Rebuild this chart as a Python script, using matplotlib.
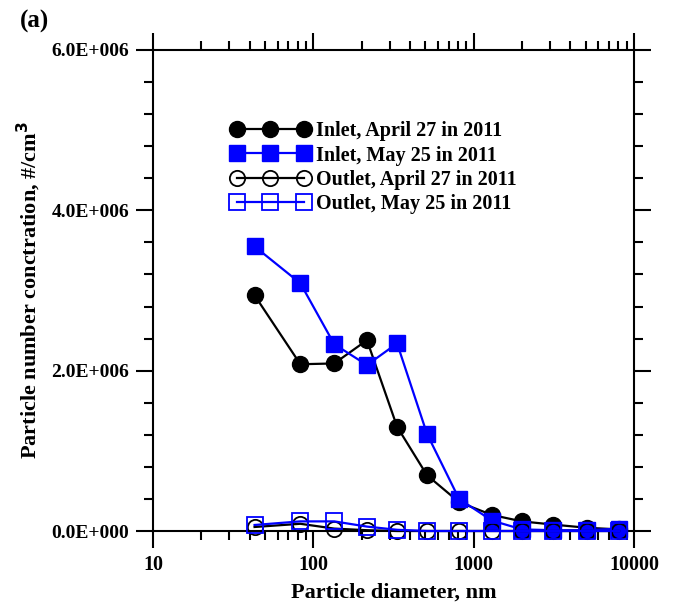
import matplotlib
matplotlib.use("Agg")
import matplotlib.pyplot as plt
from matplotlib.ticker import MultipleLocator, FuncFormatter, LogLocator, NullFormatter

plt.rcParams['font.family'] = ['Liberation Serif', 'DejaVu Serif']
plt.rcParams['font.weight'] = 'bold'

# particle diameter (nm)
diametro = [43, 83, 135, 216, 333, 512, 811, 1300, 2000, 3130, 5100, 8070]

# concentrations (#/cm3)
inlet_abr = [2.94e6, 2.08e6, 2.09e6, 2.38e6, 1.30e6, 0.695e6, 0.36e6, 0.20e6, 0.12e6, 0.08e6, 0.04e6, 0.02e6]
inlet_mai = [3.55e6, 3.09e6, 2.33e6, 2.07e6, 2.34e6, 1.21e6, 0.40e6, 0.13e6, 0.02e6, 0.01e6, 0.01e6, 0.03e6]
outlet_abr = [0.05e6, 0.09e6, 0.03e6, 0.01e6, 0.0, 0.0, 0.0, 0.0, 0.0, 0.0, 0.0, 0.0]
outlet_mai = [0.075e6, 0.12e6, 0.12e6, 0.055e6, 0.015e6, 0.0, 0.0, 0.0, 0.0, 0.0, 0.0, 0.0]

rotulos = ['Inlet, April 27 in 2011', 'Inlet, May 25 in 2011',
           'Outlet, April 27 in 2011', 'Outlet, May 25 in 2011']

azul = '#0000ff'

fig = plt.figure(figsize=(6.75, 6.1), dpi=100)
ax = fig.add_axes([153 / 675, 79 / 610, 481 / 675, 481 / 610])

ax.plot(diametro, inlet_abr, '-o', color='black', mfc='black', ms=11.5, lw=1.6,
        clip_on=False, zorder=3, label=rotulos[0])
ax.plot(diametro, inlet_mai, '-s', color=azul, mfc=azul, mec=azul, ms=11.5, lw=1.6,
        clip_on=False, zorder=4, label=rotulos[1])
ax.plot(diametro, outlet_abr, '-o', color='black', mfc='none', ms=11, mew=1.3, lw=1.6,
        clip_on=False, zorder=5, label=rotulos[2])
ax.plot(diametro, outlet_mai, '-s', color=azul, mfc='none', mec=azul, ms=11, mew=1.3, lw=1.6,
        clip_on=False, zorder=6, label=rotulos[3])

ax.set_xscale('log')
ax.set_xlim(10, 10000)
ax.set_ylim(0, 6e6)

ax.xaxis.set_major_locator(LogLocator(base=10, numticks=10))
ax.xaxis.set_minor_locator(LogLocator(base=10, subs=range(2, 10), numticks=20))
ax.xaxis.set_minor_formatter(NullFormatter())
ax.xaxis.set_major_formatter(FuncFormatter(lambda v, p: f'{int(round(v))}'))

ax.yaxis.set_major_locator(MultipleLocator(2e6))
ax.yaxis.set_minor_locator(MultipleLocator(0.4e6))


def formata_y(v, p):
    if abs(v) < 1:
        return '0.0E+000'
    return f'{v / 1e6:.1f}E+006'


ax.yaxis.set_major_formatter(FuncFormatter(formata_y))

for lado in ax.spines.values():
    lado.set_linewidth(1.5)

ax.tick_params(which='both', direction='out', top=True, right=True, width=1.5)
ax.tick_params(which='major', length=12)
ax.tick_params(which='minor', length=6.5)
ax.tick_params(axis='x', which='major', pad=5, labelsize=14.5)
ax.tick_params(axis='y', which='major', pad=5, labelsize=14)

ax.set_xlabel('Particle diameter, nm', fontsize=16, fontweight='bold', labelpad=6)
ax.set_ylabel('Particle number conctration, #/cm$^\\mathbf{3}$', fontsize=16,
              fontweight='bold', labelpad=6)

leg = ax.legend(loc='upper left', bbox_to_anchor=(221 / 675, 1 - 111 / 610),
                bbox_transform=fig.transFigure, frameon=False, numpoints=3,
                handlelength=3.9, handletextpad=0.3, labelspacing=0.22,
                borderpad=0, prop={'size': 14.5, 'weight': 'bold'})

fig.text(20 / 675, 1 - 10 / 610, '(a)', fontsize=18, fontweight='bold', va='top', ha='left')

fig.savefig('out.png', dpi=100)
